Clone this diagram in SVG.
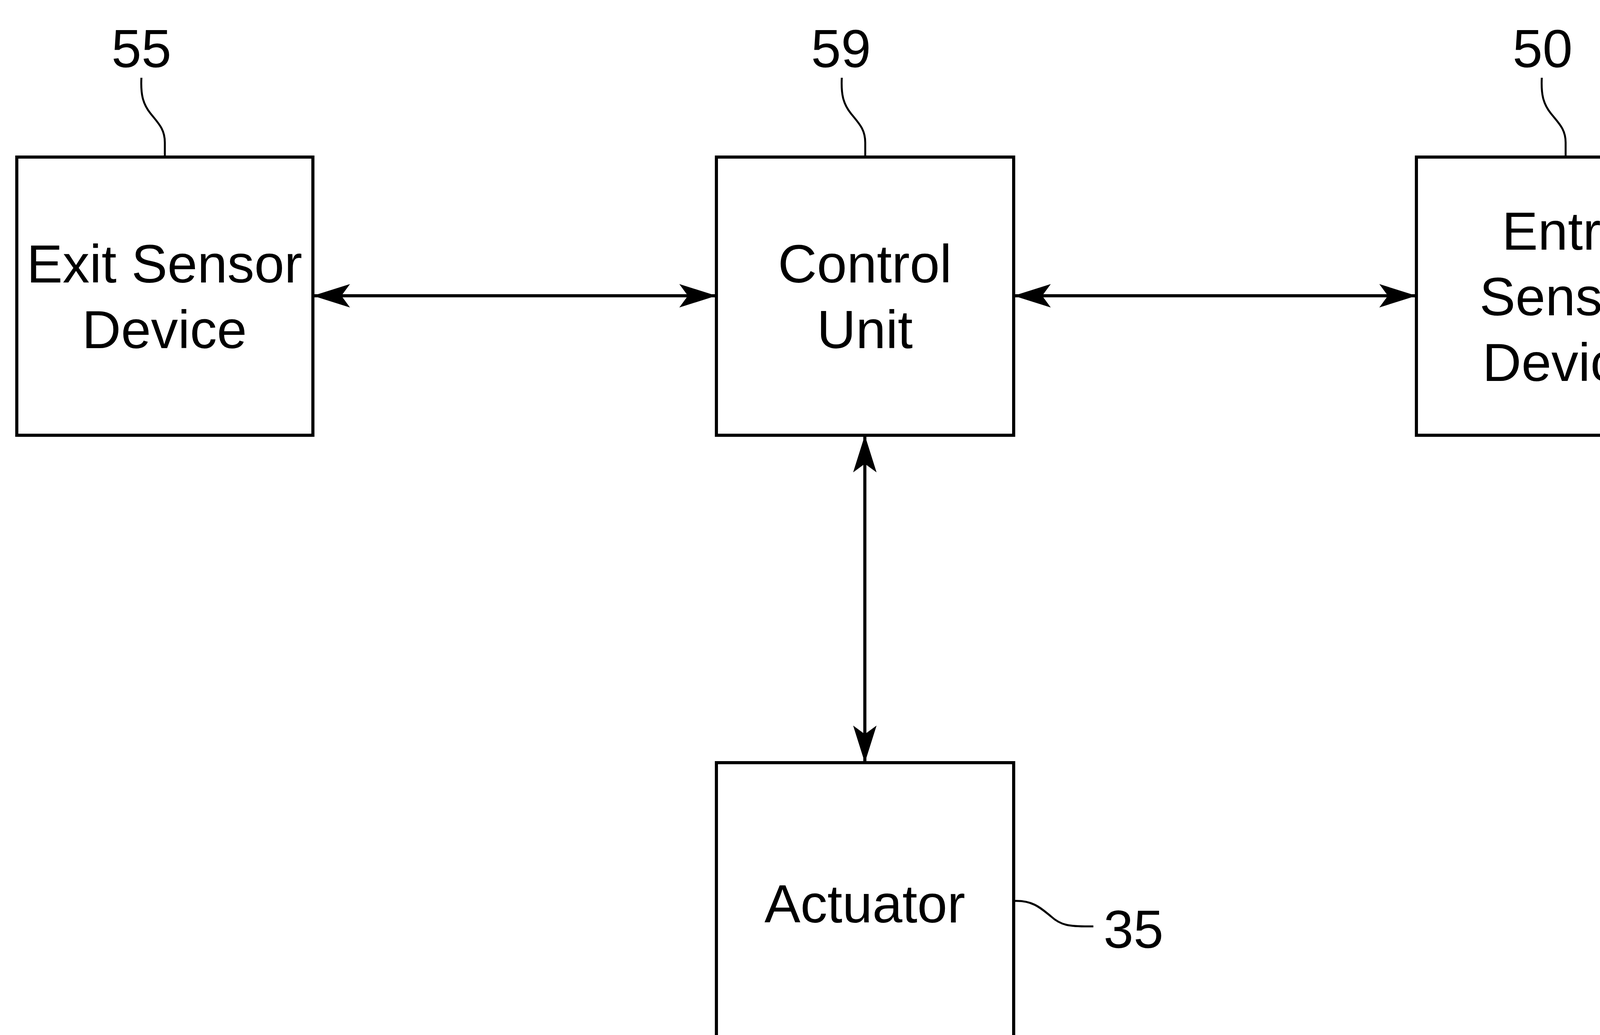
<svg xmlns="http://www.w3.org/2000/svg" width="4338" height="2649" viewBox="0 0 4338 2649">
  <style>
    .box { fill: #ffffff; stroke: #000000; stroke-width: 8; }
    .lbl { font-family: "Liberation Sans", Arial, sans-serif; font-size: 138px; fill: #000000; text-anchor: middle; }
    .ref { font-family: "Liberation Sans", Arial, sans-serif; font-size: 138px; fill: #000000; }
    .lead { fill: none; stroke: #000000; stroke-width: 5; }
    .conn { fill: none; stroke: #000000; stroke-width: 8; marker-start: url(#arr); marker-end: url(#arr); }
  </style>
  <defs>
    <marker id="arr" markerUnits="userSpaceOnUse" viewBox="0 0 95 60" refX="95" refY="30" markerWidth="95" markerHeight="60" orient="auto-start-reverse">
      <path d="M0,0 L95,30 L0,60 L22,30 Z" fill="#000000"/>
    </marker>
  </defs>
  <rect width="4338" height="2649" fill="#ffffff"/>

  <g id="connectors">
    <line class="conn" x1="801" y1="757" x2="1834" y2="757"/>
    <line class="conn" x1="2595" y1="757" x2="3626" y2="757"/>
    <line class="conn" x1="2214" y1="1114" x2="2214" y2="1952"/>
  </g>

  <g id="node-exit">
    <rect class="box" x="43" y="402" width="758" height="712"/>
    <text class="lbl" x="421" y="723">Exit Sensor</text>
    <text class="lbl" x="421" y="891">Device</text>
    <path class="lead" d="M362,199 C360,240 365,265 385,290 C405,315 422,330 422,365 L422,402"/>
    <text class="lbl" x="362" y="172">55</text>
  </g>

  <g id="node-control">
    <rect class="box" x="1834" y="402" width="761" height="712"/>
    <text class="lbl" x="2214" y="723">Control</text>
    <text class="lbl" x="2214" y="891">Unit</text>
    <path class="lead" d="M2155,199 C2153,240 2158,265 2178,290 C2198,315 2215,330 2215,365 L2215,402"/>
    <text class="lbl" x="2153" y="172">59</text>
  </g>

  <g id="node-entry">
    <rect class="box" x="3626" y="402" width="761" height="712"/>
    <text class="lbl" x="4006" y="639">Entry</text>
    <text class="lbl" x="4006" y="807">Sensor</text>
    <text class="lbl" x="4006" y="975">Device</text>
    <path class="lead" d="M3947,199 C3945,240 3950,265 3970,290 C3990,315 4008,330 4008,365 L4008,402"/>
    <text class="lbl" x="3949" y="172">50</text>
  </g>

  <g id="node-actuator">
    <rect class="box" x="1834" y="1952" width="761" height="760"/>
    <text class="lbl" x="2214" y="2361">Actuator</text>
    <path class="lead" d="M2595,2306 C2640,2304 2660,2320 2690,2345 C2715,2368 2735,2372 2799,2371"/>
    <text class="ref" x="2825" y="2426">35</text>
  </g>
</svg>
